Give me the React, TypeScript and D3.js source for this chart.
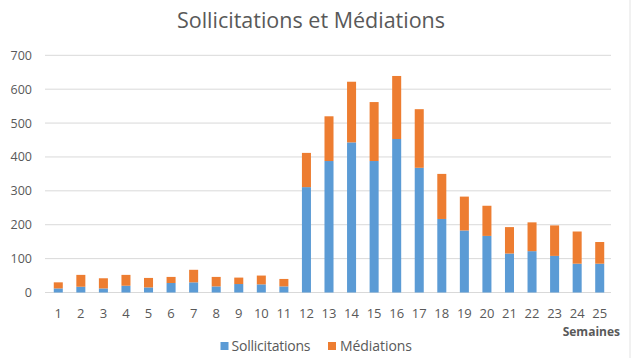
import React from "react";
import * as d3 from "d3";

const weeks = ["1","2","3","4","5","6","7","8","9","10","11","12","13","14","15","16","17","18","19","20","21","22","23","24","25"];
const sollicitations = [12,17,12,20,15,28,30,18,25,24,18,311,388,443,388,453,368,217,183,167,115,122,108,85,85];
const totals = [30,52,42,52,43,46,67,46,44,50,40,412,520,622,562,639,541,350,283,256,193,207,198,180,149];
const mediations = totals.map((t, i) => t - sollicitations[i]);
const yTicks = [0,100,200,300,400,500,600,700];
const seriesNames = ["Sollicitations", "Médiations"];
const colors = ["#5B9BD5", "#ED7D31"];

export default function App() {
  const W = 637, H = 358;
  const x = d3.scaleBand<string>().domain(weeks).range([47, 611]).paddingInner(0.6).paddingOuter(0.3);
  const y = d3.scaleLinear().domain([0, 700]).range([292.5, 55.3]);
  const rows = weeks.map((w, i) => ({ w, s: sollicitations[i], m: mediations[i] }));
  const stack = d3.stack<any>().keys(["s", "m"])(rows);
  const font = "'Open Sans', 'Liberation Sans', sans-serif";
  return (
    <svg width={W} height={H} style={{ position: "absolute", left: 0, top: 0, background: "#fff" }} fontFamily={font}>
      <rect x={0} y={0} width={W} height={H} fill="#fff" />
      <line x1={630} x2={630} y1={0} y2={H} stroke="#E3E3E3" />
      <text x={311} y={28} textAnchor="middle" fontSize={21.5} fill="#595959">Sollicitations et Médiations</text>
      {yTicks.map(t => (
        <g key={t}>
          <line x1={45} x2={611} y1={y(t)} y2={y(t)} stroke="#D9D9D9" strokeWidth={1} />
          <text x={32} y={y(t) + 4.5} textAnchor="end" fontSize={12.5} fill="#595959">{t}</text>
        </g>
      ))}
      {stack.map((layer, li) => (
        <g key={li} fill={colors[li]}>
          {layer.map((d, i) => (
            <rect key={i} x={x(weeks[i])!} width={x.bandwidth()} y={y(d[1])} height={y(d[0]) - y(d[1])} />
          ))}
        </g>
      ))}
      {weeks.map(w => (
        <text key={w} x={x(w)! + x.bandwidth() / 2} y={318} textAnchor="middle" fontSize={13} fill="#595959">{w}</text>
      ))}
      <text x={620} y={336} textAnchor="end" fontSize={12} fontWeight="bold" fill="#595959">Semaines</text>
      <g>
        <rect x={220.5} y={342} width={8} height={8} fill={colors[0]} />
        <text x={231.5} y={351} fontSize={14} fill="#595959" textLength={79}>{seriesNames[0]}</text>
        <rect x={328} y={342} width={8} height={8} fill={colors[1]} />
        <text x={340} y={351} fontSize={14} fill="#595959" textLength={72}>{seriesNames[1]}</text>
      </g>
    </svg>
  );
}
